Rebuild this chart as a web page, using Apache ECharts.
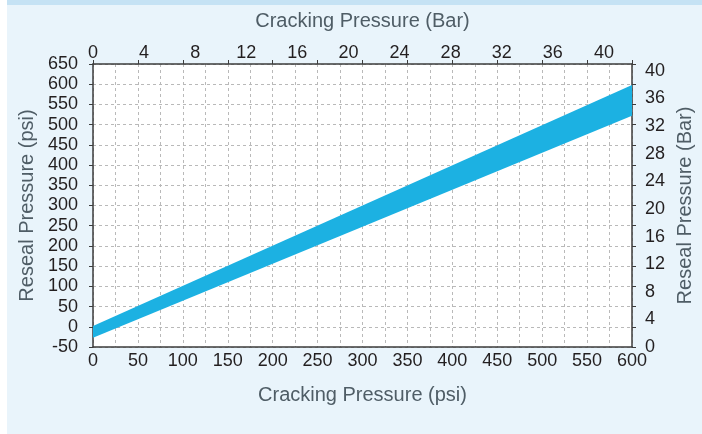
<!DOCTYPE html>
<html>
<head>
<meta charset="utf-8">
<script src="https://cdn.jsdelivr.net/npm/echarts@6/dist/echarts.min.js"></script>
<style>
html,body{margin:0;padding:0;background:#ffffff;}
#bg{position:absolute;left:7px;top:0;width:695px;height:434px;background:#e9f4fb;}
#strip{position:absolute;left:7px;top:0;width:695px;height:5px;background:#c5e2f4;}
#chart{position:absolute;left:0;top:0;width:702px;height:434px;}
</style>
</head>
<body>
<div id="bg"></div>
<div id="strip"></div>
<div id="chart"></div>
<script>
// Data (psi)
var crackingPsi = [0, 600];
var resealUpperPsi = [2, 598];
var resealLowerPsi = [-27, 522];

// Axis ranges / ticks
var psiXMin = 0, psiXMax = 600, psiXStep = 50, psiXMinorStep = 25;
var psiYMin = -50, psiYMax = 650, psiYStep = 50;
var barXMin = 0, barXMax = 42.2, barXStep = 4;
var barYMin = 0, barYMax = 41, barYStep = 4;

var labelColor = '#231f20';
var nameColor = '#4f5d66';
var lineColor = '#3d3d3d';
var gridDash = { color: '#b9b9b9', type: [3, 3], width: 1 };
var font = 'Liberation Sans, Arial, sans-serif';
var labelSize = 18;
var nameSize = 20;

var chart = echarts.init(document.getElementById('chart'), null, { renderer: 'canvas' });
chart.setOption({
  backgroundColor: 'transparent',
  animation: false,
  grid: { left: 93, right: 70, top: 64, bottom: 87, containLabel: false, outerBoundsMode: 'none', show: true, backgroundColor: '#ffffff', borderWidth: 0 },
  xAxis: [
    {
      type: 'value', position: 'bottom', min: psiXMin, max: psiXMax, interval: psiXStep,
      name: 'Cracking Pressure (psi)', nameLocation: 'middle', nameGap: 38,
      nameTextStyle: { color: nameColor, fontSize: nameSize, fontFamily: font },
      axisLine: { show: true, onZero: false, lineStyle: { color: lineColor, width: 1.5 } },
      axisTick: { show: false },
      axisLabel: { color: labelColor, fontSize: labelSize, fontFamily: font, margin: 5 },
      splitLine: { show: false }
    },
    {
      type: 'value', position: 'top', min: barXMin, max: barXMax, interval: barXStep,
      name: 'Cracking Pressure (Bar)', nameLocation: 'middle', nameGap: 33,
      nameTextStyle: { color: nameColor, fontSize: nameSize, fontFamily: font },
      axisLine: { show: false },
      axisTick: { show: false },
      axisLabel: { color: labelColor, fontSize: labelSize, fontFamily: font, margin: 2, showMaxLabel: false },
      splitLine: { show: false }
    },
    {
      type: 'value', position: 'bottom', min: psiXMin, max: psiXMax, interval: psiXMinorStep,
      axisLine: { show: false }, axisTick: { show: false }, axisLabel: { show: false },
      splitLine: { show: true, lineStyle: gridDash }
    },
    {
      type: 'value', position: 'top', min: psiXMin, max: psiXMax, interval: psiXStep,
      axisLine: { show: true, onZero: false, lineStyle: { color: lineColor, width: 1.5 } },
      axisTick: { show: true, inside: false, length: 4, lineStyle: { color: lineColor } },
      axisLabel: { show: false }, splitLine: { show: false }
    }
  ],
  yAxis: [
    {
      type: 'value', position: 'left', min: psiYMin, max: psiYMax, interval: psiYStep,
      name: 'Reseal Pressure (psi)', nameLocation: 'middle', nameGap: 52,
      nameTextStyle: { color: nameColor, fontSize: nameSize, fontFamily: font },
      axisLine: { show: true, onZero: false, lineStyle: { color: lineColor, width: 1.5 } },
      axisTick: { show: true, inside: false, length: 4, lineStyle: { color: lineColor } },
      axisLabel: { color: labelColor, fontSize: labelSize, fontFamily: font, margin: 15 },
      splitLine: { show: true, lineStyle: gridDash }
    },
    {
      type: 'value', position: 'right', min: barYMin, max: barYMax, interval: barYStep,
      name: 'Reseal Pressure (Bar)', nameLocation: 'middle', nameGap: 42, nameRotate: 90,
      nameTextStyle: { color: nameColor, fontSize: nameSize, fontFamily: font },
      axisLine: { show: false }, axisTick: { show: false },
      axisLabel: { color: labelColor, fontSize: labelSize, fontFamily: font, margin: 13 },
      splitLine: { show: false }
    },
    {
      type: 'value', position: 'right', min: psiYMin, max: psiYMax, interval: psiYStep,
      axisLine: { show: true, onZero: false, lineStyle: { color: lineColor, width: 1.5 } },
      axisTick: { show: true, inside: false, length: 4, lineStyle: { color: lineColor } },
      axisLabel: { show: false }, splitLine: { show: false }
    }
  ],
  series: [
    {
      type: 'custom', xAxisIndex: 0, yAxisIndex: 0, silent: true,
      data: [[0]],
      renderItem: function (params, api) {
        var pts = [];
        for (var i = 0; i < crackingPsi.length; i++) pts.push(api.coord([crackingPsi[i], resealUpperPsi[i]]));
        for (var j = crackingPsi.length - 1; j >= 0; j--) pts.push(api.coord([crackingPsi[j], resealLowerPsi[j]]));
        return { type: 'polygon', shape: { points: pts }, style: { fill: '#1cb1e2' } };
      }
    }
  ]
});
</script>
</body>
</html>
